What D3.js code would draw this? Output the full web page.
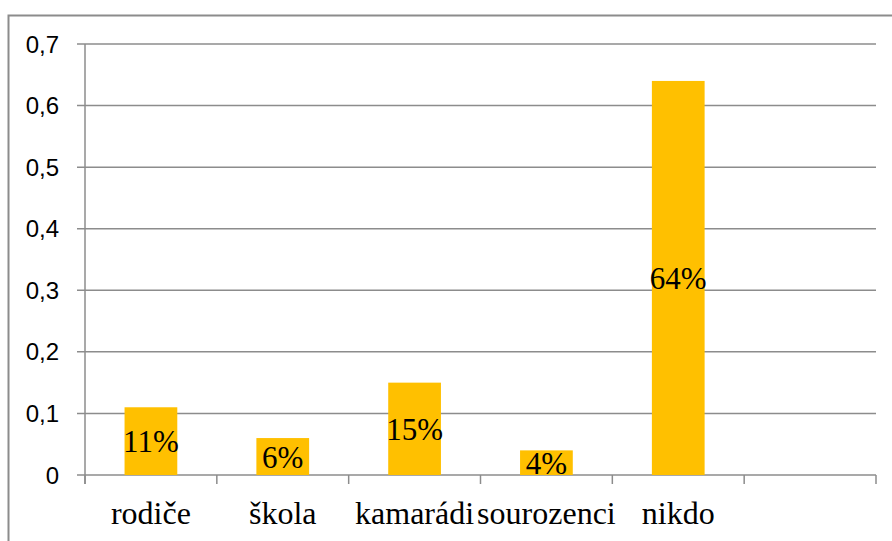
<!DOCTYPE html>
<html>
<head>
<meta charset="utf-8">
<script src="https://cdn.jsdelivr.net/npm/d3@7"></script>
<style>
  body { margin: 0; background: #fff; }
  svg { display: block; }
</style>
</head>
<body>
<div id="plot"></div>
<script>
// categories and shares
const categories = ["rodiče", "škola", "kamarádi", "sourozenci", "nikdo", ""];
const values = [0.11, 0.06, 0.15, 0.04, 0.64];
const labels = ["11%", "6%", "15%", "4%", "64%"];
const yTicks = [0, 0.1, 0.2, 0.3, 0.4, 0.5, 0.6, 0.7];

const width = 892, height = 541;
const margin = {top: 44, right: 16, bottom: 66, left: 85};
const grey = "#8c8c8c";
const serif = "'Liberation Serif', 'Times New Roman', Times, serif";

const svg = d3.select("#plot").append("svg")
  .attr("width", width)
  .attr("height", height);

// outer frame (left + top only visible)
svg.append("path")
  .attr("d", `M8.5,${height} V15.5 H${width}`)
  .attr("fill", "none")
  .attr("stroke", grey)
  .attr("stroke-width", 2);

const band = d3.scaleBand(d3.range(categories.length), [margin.left, width - margin.right]);
const y = d3.scaleLinear([0, 0.7], [height - margin.bottom, margin.top]);

// gridlines + left ticks
svg.append("g")
  .selectAll("line")
  .data(yTicks)
  .join("line")
    .attr("x1", margin.left - 8)
    .attr("x2", width - margin.right)
    .attr("y1", d => y(d))
    .attr("y2", d => y(d))
    .attr("stroke", grey)
    .attr("stroke-width", 1.5);

// y axis line
svg.append("line")
  .attr("x1", margin.left).attr("x2", margin.left)
  .attr("y1", y(0.7)).attr("y2", y(0) + 9)
  .attr("stroke", grey).attr("stroke-width", 1.5);

// x ticks at band edges
svg.append("g")
  .selectAll("line")
  .data(d3.range(categories.length + 1))
  .join("line")
    .attr("x1", i => i < categories.length ? band(i) : band.range()[1])
    .attr("x2", i => i < categories.length ? band(i) : band.range()[1])
    .attr("y1", y(0))
    .attr("y2", y(0) + 9)
    .attr("stroke", grey)
    .attr("stroke-width", 1.5);

// y tick labels
const fmt = d => d === 0 ? "0" : d3.format(".1f")(d).replace(".", ",");
svg.append("g")
  .selectAll("text")
  .data(yTicks)
  .join("text")
    .attr("x", 59)
    .attr("y", d => y(d))
    .attr("dy", "0.36em")
    .attr("text-anchor", "end")
    .style("font-family", "'Liberation Sans', Arial, sans-serif")
    .style("font-size", "24px")
    .attr("fill", "#000")
    .text(fmt);

// bars
const bandW = band.bandwidth();
const barW = bandW * 0.4;
svg.append("g")
  .selectAll("rect")
  .data(values)
  .join("rect")
    .attr("x", (d, i) => band(i) + (bandW - barW) / 2)
    .attr("y", d => y(d))
    .attr("width", barW)
    .attr("height", d => y(0) - y(d))
    .attr("fill", "#FFC000");

// data labels, centred in bars
svg.append("g")
  .selectAll("text")
  .data(values)
  .join("text")
    .attr("x", (d, i) => band(i) + bandW / 2)
    .attr("y", d => (y(d) + y(0)) / 2)
    .attr("dy", "0.36em")
    .attr("text-anchor", "middle")
    .style("font-family", serif)
    .style("font-size", "31px")
    .attr("fill", "#000")
    .text((d, i) => labels[i]);

// category labels
svg.append("g")
  .selectAll("text")
  .data(categories)
  .join("text")
    .attr("x", (d, i) => band(i) + bandW / 2)
    .attr("y", 524)
    .attr("text-anchor", "middle")
    .style("font-family", serif)
    .style("font-size", "32px")
    .attr("fill", "#000")
    .text(d => d);
</script>
</body>
</html>
